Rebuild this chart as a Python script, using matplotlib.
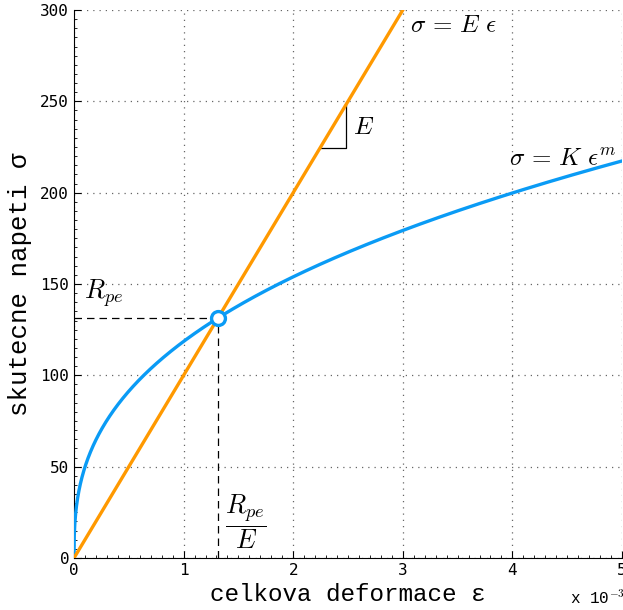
import numpy as np
import matplotlib
matplotlib.use("Agg")
import matplotlib.pyplot as plt
from matplotlib.ticker import MultipleLocator, FuncFormatter

# material parameters
E = 1.0e5          # elastic modulus
Rpe = 131.4        # stress at the crossing point
m = 0.3766         # hardening exponent
eps_pe = Rpe / E
K = Rpe / eps_pe**m

eps_max = 5e-3
sig_max = 300

# slope triangle corner
tri_eps = [2.245e-3, 2.48e-3]

plt.rcParams['mathtext.fontset'] = 'cm'

fig = plt.figure(figsize=(6.23, 6.10), dpi=100)
ax = fig.add_axes([74/623, 52/610, 548/623, 548/610])

eps = np.linspace(0, eps_max, 2000)
ax.plot(eps, K * eps**m, color='#0a9bf5', lw=2.4, zorder=3)
eps_l = np.linspace(0, sig_max / E, 50)
ax.plot(eps_l, E * eps_l, color='#ff9900', lw=2.4, zorder=3)

# guide lines to the crossing point
ax.plot([0, eps_pe], [Rpe, Rpe], 'k--', lw=0.9, dashes=(6, 4), zorder=2)
ax.plot([eps_pe, eps_pe], [0, Rpe], 'k--', lw=0.9, dashes=(6, 4), zorder=2)
ax.plot([eps_pe], [Rpe], 'o', ms=10, mfc='white', mec='#0a9bf5', mew=2.4, zorder=4)

# slope triangle
y0 = E * tri_eps[0]
ax.plot([tri_eps[0], tri_eps[1], tri_eps[1]], [y0, y0, E * tri_eps[1]],
        color='k', lw=0.9, zorder=2)

ax.text(3.07e-3, 288, r'$\sigma\, =\, E\ \epsilon$', fontsize=18)
ax.text(2.55e-3, 232, r'$E$', fontsize=18)
ax.text(3.97e-3, 215, r'$\sigma\, =\, K\ \epsilon^{m}$', fontsize=18)
ax.text(0.09e-3, 142, r'$R_{pe}$', fontsize=19)
ax.text(1.57e-3, 20, r'$\dfrac{R_{pe}}{E}$', fontsize=19, ha='center', va='center')

ax.set_xlim(0, eps_max)
ax.set_ylim(0, sig_max)
ax.xaxis.set_major_locator(MultipleLocator(1e-3))
ax.xaxis.set_minor_locator(MultipleLocator(1e-4))
ax.yaxis.set_major_locator(MultipleLocator(50))
ax.yaxis.set_minor_locator(MultipleLocator(5))
ax.xaxis.set_major_formatter(FuncFormatter(lambda v, p: '%d' % round(v * 1e3)))
ax.tick_params(which='both', direction='in', labelsize=11.5)
ax.tick_params(which='major', length=5)
ax.tick_params(which='minor', length=2.5)
for lab in ax.get_xticklabels() + ax.get_yticklabels():
    lab.set_family('DejaVu Sans Mono')
ax.spines['top'].set_visible(False)
ax.spines['right'].set_visible(False)
ax.grid(True, which='major', ls=(0, (1, 4)), color='#666666', lw=0.9)

ax.set_xlabel('celkova deformace ε', family='Liberation Mono', fontsize=17.5, labelpad=4)
ax.set_ylabel('skutecne napeti σ', family='Liberation Mono', fontsize=18.5, labelpad=6)
fig.text(570/623, 1 - 597/610, r'x 10$^{-3}$', family='Liberation Mono', fontsize=11.5, va='center')

fig.savefig('out.png', dpi=100)
